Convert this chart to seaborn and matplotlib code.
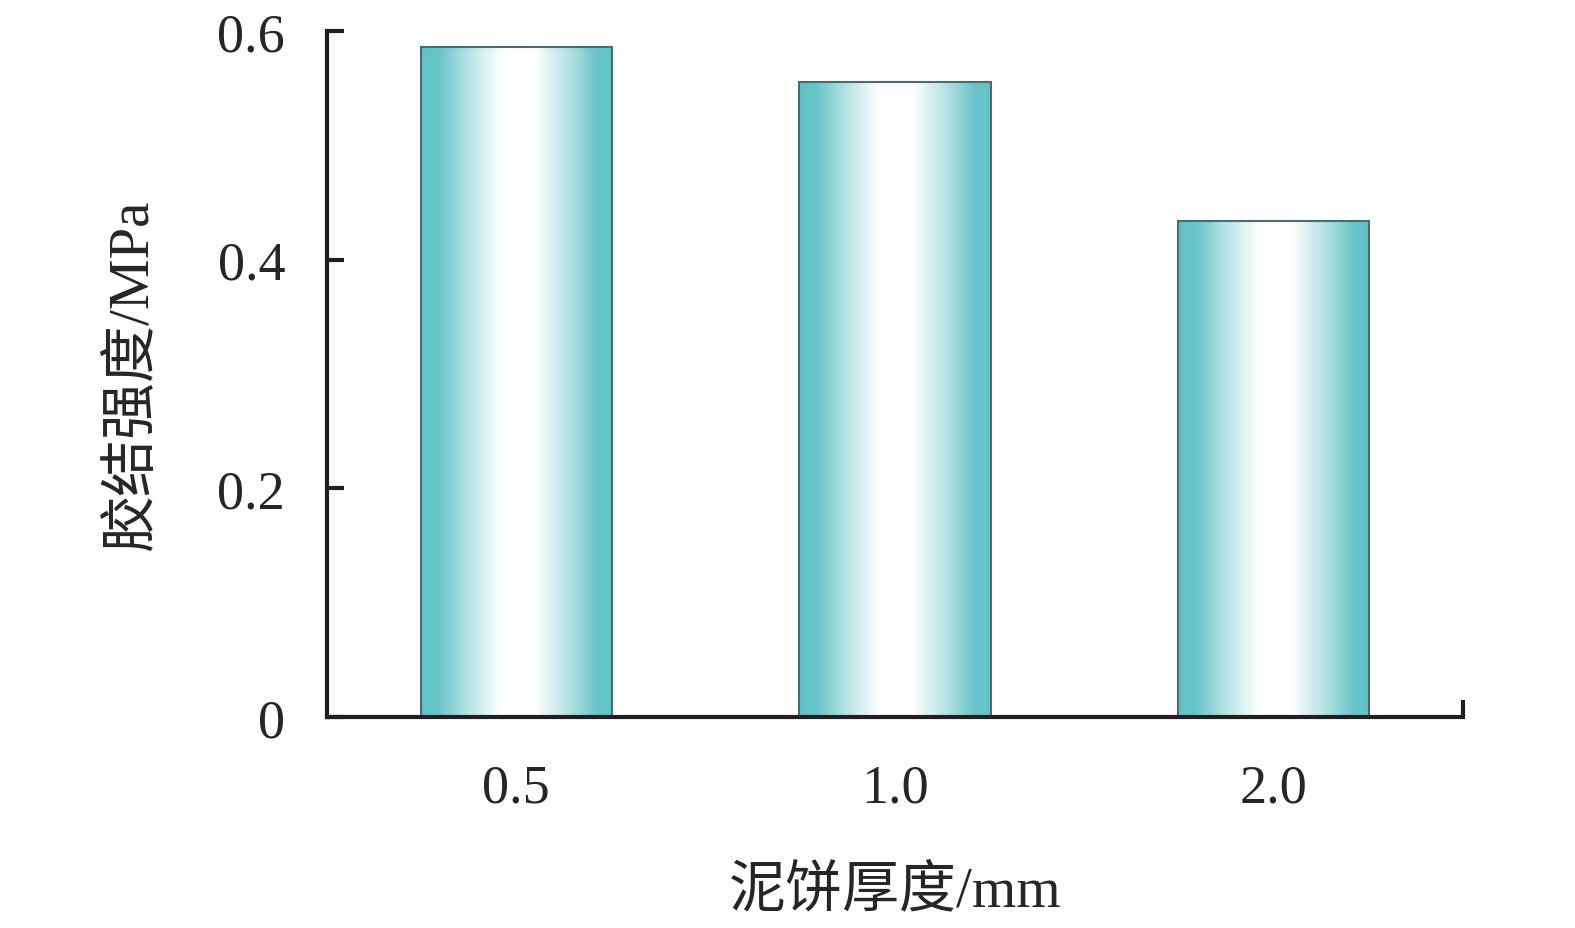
import numpy as np
import pandas as pd
import seaborn as sns
import matplotlib.pyplot as plt
from matplotlib.colors import LinearSegmentedColormap

# 数据
thickness = ["0.5", "1.0", "2.0"]
strength = [0.586, 0.555, 0.434]
y_ticks = [0, 0.2, 0.4, 0.6]
y_ticklabels = ["0", "0.2", "0.4", "0.6"]

sns.set_style("white")
plt.rcParams['font.family'] = ['Liberation Serif', 'Noto Sans CJK SC', 'DejaVu Sans']

fig = plt.figure(figsize=(15.75, 9.29), dpi=100)
ax = fig.add_axes([0.2075, 0.2271, 0.7215, 0.7385])

df = pd.DataFrame({"t": thickness, "s": strength})
sns.barplot(data=df, x="t", y="s", order=thickness, width=0.505,
            color="#66C4C8", edgecolor="#4d6b70", linewidth=1.5, ax=ax)

# 柱子渐变填充
cmap = LinearSegmentedColormap.from_list("bar", [
    (0.0, "#62C3C7"), (0.09, "#67C5C9"), (0.25, "#B8E4E5"), (0.42, "#FFFFFF"),
    (0.59, "#FFFFFF"), (0.76, "#B8E4E5"), (0.92, "#67C5C9"), (1.0, "#62C3C7")])
grad = np.linspace(0, 1, 256).reshape(1, -1)
for p in ax.patches:
    x0, y0 = p.get_x(), p.get_y()
    w, h = p.get_width(), p.get_height()
    im = ax.imshow(grad, cmap=cmap, aspect="auto", extent=[x0, x0 + w, y0, y0 + h],
                   zorder=1, interpolation="bilinear")
    im.set_clip_path(p)
    p.set_facecolor("none")
    p.set_zorder(2)

ax.set_xlim(-0.5, 2.5)
ax.set_ylim(0, 0.6)
ax.set_yticks(y_ticks)
ax.set_yticklabels(y_ticklabels)

for s in ["top", "right"]:
    ax.spines[s].set_visible(False)
for s in ["left", "bottom"]:
    ax.spines[s].set_linewidth(3)
    ax.spines[s].set_color("#231f20")

ax.tick_params(axis="y", left=True, direction="in", length=12, width=3, color="#231f20",
               labelsize=39, pad=30)
ax.tick_params(axis="x", length=0, labelsize=39, pad=33)
ax.set_xticks([2.5], minor=True)
ax.tick_params(axis="x", which="minor", bottom=True, direction="in", length=12, width=3,
               color="#231f20")

ax.set_xlabel("泥饼厚度/mm", fontsize=41, labelpad=38)
ax.set_ylabel("胶结强度/MPa", fontsize=41, labelpad=42)

plt.savefig("out.png", dpi=100)
